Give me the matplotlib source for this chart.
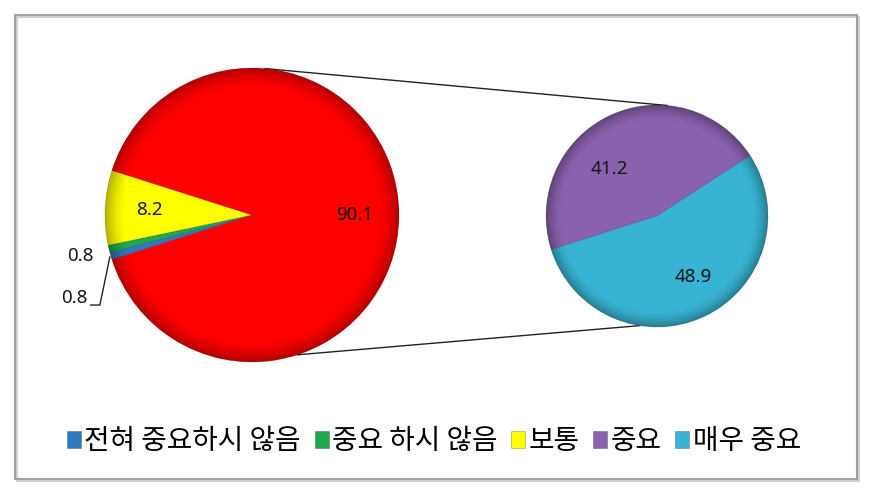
import matplotlib.pyplot as plt
from matplotlib.patches import Rectangle, Circle
import numpy as np

plt.rcParams['font.family'] = ['Noto Sans CJK KR', 'DejaVu Sans']

# data
labels = ['전혀 중요하시 않음', '중요 하시 않음', '보통', '중요', '매우 중요']
main_vals = [0.8, 0.8, 8.2]      # 전혀 / 중요 하시 않음 / 보통
sub_vals = [41.2, 48.9]          # 중요 / 매우 중요
main_colors = ['#2F78C2', '#1FA84E', '#FFFF00']
sub_colors = ['#8A61AE', '#38B3D3']
other_color = '#FF0000'

other = sum(sub_vals)            # 90.1, split out into the second pie
total = sum(main_vals) + other

W, H = 870, 493
fig = plt.figure(figsize=(W / 100, H / 100), dpi=100)
ax = fig.add_axes([0, 0, 1, 1])

c1, r1 = (252, H - 215), 147
c2, r2 = (657, H - 216), 111

# first pie, "other" slice centred on 3 o'clock
start1 = 180 + sum(main_vals) / total * 360 / 2
w1, _ = ax.pie(main_vals + [other], colors=main_colors + [other_color],
               center=c1, radius=r1, startangle=start1, counterclock=False,
               wedgeprops=dict(linewidth=0.6, edgecolor='#00000030'))
w2, _ = ax.pie(sub_vals, colors=sub_colors, center=c2, radius=r2,
               startangle=33, counterclock=True,
               wedgeprops=dict(linewidth=0.6, edgecolor='#00000030'))

# soft darkening towards the rim (excel-ish bevel)
g = np.linspace(-1, 1, 300)
gx, gy = np.meshgrid(g, g)
rho = np.hypot(gx, gy)
shade = np.zeros((300, 300, 4))
shade[..., 3] = 0.30 * np.clip((rho - 0.86) / 0.14, 0, 1) ** 1.6
for c, r in [(c1, r1), (c2, r2)]:
    im = ax.imshow(shade, extent=[c[0] - r, c[0] + r, c[1] - r, c[1] + r],
                   zorder=2, interpolation='bilinear')
    clip = Circle(c, r, transform=ax.transData)
    im.set_clip_path(clip)

ax.set_xlim(0, W)
ax.set_ylim(0, H)
ax.set_aspect('auto')
ax.axis('off')


def mid(w):
    return np.deg2rad((w.theta1 + w.theta2) / 2)


def place(w, c, r, dist, shift=0.0):
    a = mid(w) + np.deg2rad(shift)
    return c[0] + dist * r * np.cos(a), c[1] + dist * r * np.sin(a)


num_font = dict(fontsize=13.5, family=['Noto Sans', 'DejaVu Sans'], color='#151515',
                zorder=5)

# labels on first pie
vals1 = main_vals + [other]
for i, (w, v) in enumerate(zip(w1, vals1)):
    if i == 0:
        # blue slice: label pulled down with a leader line
        ex, ey = place(w, c1, r1, 1.0)
        tx, ty = ex - 23, ey - 42
        ax.text(tx, ty, f'{v:.1f}', ha='right', va='center', **num_font)
        ax.plot([tx + 3, tx + 12, ex - 1], [ty - 7, ty - 7, ey - 1],
                color='#222222', lw=1)
    elif i == 1:
        x, y = place(w, c1, r1, 1.2)
        ax.text(x, y, f'{v:.1f}', ha='center', va='center', **num_font)
    else:
        x, y = place(w, c1, r1, 0.70)
        ax.text(x, y, f'{v:.1f}', ha='center', va='center', **num_font)

# labels on second pie
for w, v, d, s in zip(w2, sub_vals, [0.60, 0.64], [20, 5]):
    x, y = place(w, c2, r2, d, s)
    ax.text(x, y, f'{v:.1f}', ha='center', va='center', **num_font)

# connector lines between the pies
for a1, a2 in [(84.8, 84.8), (-72, -99)]:
    p1 = (c1[0] + r1 * np.cos(np.deg2rad(a1)), c1[1] + r1 * np.sin(np.deg2rad(a1)))
    p2 = (c2[0] + r2 * np.cos(np.deg2rad(a2)), c2[1] + r2 * np.sin(np.deg2rad(a2)))
    ax.plot([p1[0], p2[0]], [p1[1], p2[1]], color='#222222', lw=1, zorder=0)

# chart frame with light shadow
ax.add_patch(Rectangle((17, 12), 842, 464, fill=False, edgecolor='#d0d0d0', lw=1.5))
ax.add_patch(Rectangle((15, 14), 842, 464, fill=False, edgecolor='#a0a0a0', lw=1.5))

# legend
leg_colors = main_colors + sub_colors
handles = [Rectangle((0, 0), 1, 1, facecolor=c, edgecolor='#00000050', lw=0.5)
           for c in leg_colors]
ax.legend(handles, labels, loc='center', bbox_to_anchor=(434 / W, (H - 441) / H),
          ncol=5, frameon=False, handlelength=0.5, handleheight=0.55,
          handletextpad=0.12, columnspacing=0.5, borderpad=0,
          prop=dict(size=20, weight='medium'))

fig.savefig('out.png', dpi=100)
